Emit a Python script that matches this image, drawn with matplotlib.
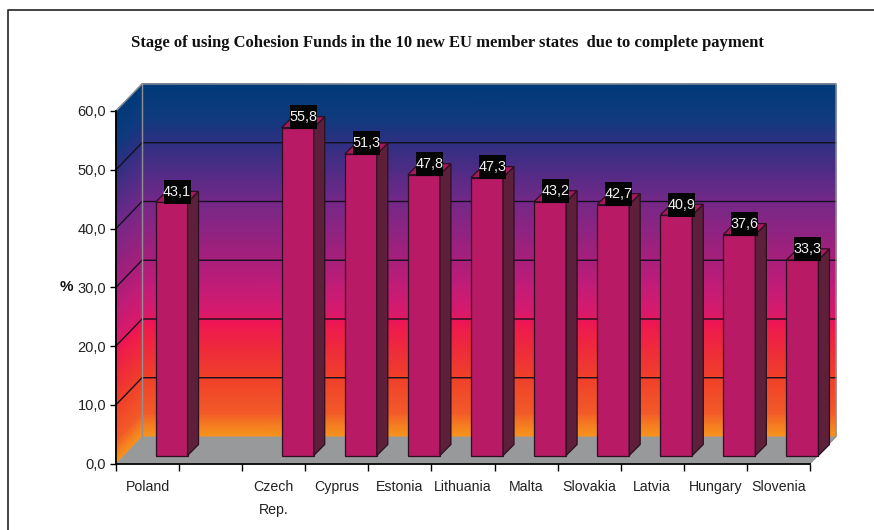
import numpy as np
import matplotlib
matplotlib.use("Agg")
import matplotlib.pyplot as plt
from matplotlib.colors import LinearSegmentedColormap

categories = ["Poland", "", "Czech\nRep.", "Cyprus", "Estonia", "Lithuania", "Malta", "Slovakia", "Latvia", "Hungary", "Slovenia"]
values = [43.1, None, 55.8, 51.3, 47.8, 47.3, 43.2, 42.7, 40.9, 37.6, 33.3]
labels = ["43,1", "", "55,8", "51,3", "47,8", "47,3", "43,2", "42,7", "40,9", "37,6", "33,3"]
yticks = [0, 10, 20, 30, 40, 50, 60]
ytick_labels = ["0,0", "10,0", "20,0", "30,0", "40,0", "50,0", "60,0"]
title = "Stage of using Cohesion Funds in the 10 new EU member states  due to complete payment"

W, H = 874, 530
left, right, y0_px, y60_px = 116, 810, 463.5, 111

# px -> data scale, the chart is a fake 3D box
sx = (right - left) / len(categories)
sy = (y0_px - y60_px) / 60
wall_dx, wall_dy = 26 / sx, 27 / sy
bar_dx, bar_dy = 8 / sx, 8 / sy
side_dx, side_dy = 11 / sx, 11 / sy
bar_w = 32 / sx
box_w, box_h = 27 / sx, 24 / sy

font = "Liberation Sans"

fig = plt.figure(figsize=(W / 100, H / 100), dpi=100, facecolor="white")
ax = fig.add_axes([left / W, 1 - y0_px / H, (right - left) / W, (y0_px - y60_px) / H])
ax.set_xlim(0, len(categories))
ax.set_ylim(0, 60)
ax.patch.set_visible(False)

stops = [(0, "#f7941d"), (1.5 / 60, "#f58320"), (4 / 60, "#f25a28"), (10 / 60, "#f0402a"),
         (15 / 60, "#ee2a3c"), (19.5 / 60, "#ee1654"), (21 / 60, "#d81a6c"), (26 / 60, "#c01c78"),
         (30 / 60, "#a81f7a"), (40 / 60, "#752888"), (50 / 60, "#2f3082"), (54.5 / 60, "#0f3a7e"),
         (1, "#003a78")]
cmap = LinearSegmentedColormap.from_list("wall", stops)
levels = np.linspace(0, 60, 241)
c = np.column_stack([levels, levels])

# back wall
X = np.tile([wall_dx, len(categories) + wall_dx], (len(levels), 1))
Y = np.column_stack([levels + wall_dy, levels + wall_dy])
ax.pcolormesh(X, Y, c, cmap=cmap, vmin=0, vmax=60, shading="gouraud", clip_on=False, zorder=1)
# left wall
X = np.tile([0, wall_dx], (len(levels), 1))
Y = np.column_stack([levels, levels + wall_dy])
ax.pcolormesh(X, Y, c, cmap=cmap, vmin=0, vmax=60, shading="gouraud", clip_on=False, zorder=1)

# floor
n = len(categories)
ax.fill([0, wall_dx, n + wall_dx, n], [0, wall_dy, wall_dy, 0], color="#98999b", lw=0, clip_on=False, zorder=2)

# grid lines
for v in yticks[1:-1]:
    ax.plot([0, wall_dx, n + wall_dx], [v, v + wall_dy, v + wall_dy], color="#14101e", lw=1, clip_on=False, zorder=3)

# wall borders
ax.plot([wall_dx, wall_dx], [wall_dy, 60 + wall_dy], color="#8f9194", lw=1, clip_on=False, zorder=3)
ax.plot([0, wall_dx, n + wall_dx, n + wall_dx, n], [60, 60 + wall_dy, 60 + wall_dy, wall_dy, 0],
        color="#8f9194", lw=1, clip_on=False, zorder=3)

# bars
for i, v in enumerate(values):
    if v is None:
        continue
    x = i + 0.5 + bar_dx
    ax.bar(x, v, bar_w, bottom=bar_dy, align="edge", color="#b81a65", edgecolor="#2a1020", lw=0.9, clip_on=False, zorder=4)
    top = v + bar_dy
    ax.fill([x + bar_w, x + bar_w + side_dx, x + bar_w + side_dx, x + bar_w],
            [bar_dy, bar_dy + side_dy, top + side_dy, top],
            facecolor="#5d1f3a", edgecolor="#2a1020", lw=0.9, clip_on=False, zorder=4)
    ax.fill([x, x + side_dx, x + bar_w + side_dx, x + bar_w],
            [top, top + side_dy, top + side_dy, top],
            facecolor="#a8185c", edgecolor="#2a1020", lw=0.9, clip_on=False, zorder=4)
    cx, cy = x + 21.5 / sx, top + 10.7 / sy
    ax.fill([cx - box_w / 2, cx + box_w / 2, cx + box_w / 2, cx - box_w / 2],
            [cy - box_h / 2, cy - box_h / 2, cy + box_h / 2, cy + box_h / 2],
            color="#050505", lw=0, clip_on=False, zorder=5)
    ax.text(cx, cy, labels[i], color="#f0f0f0", ha="center", va="center", family=font, fontsize=10.4, zorder=6)

# axes
for s in ["top", "right"]:
    ax.spines[s].set_visible(False)
for s in ["left", "bottom"]:
    ax.spines[s].set_linewidth(1.3)
    ax.spines[s].set_zorder(5)
ax.set_yticks(yticks)
ax.set_yticklabels(ytick_labels, family=font, fontsize=10.5, color="#222222")
ax.tick_params(axis="y", length=4, width=1, pad=3)
ax.set_xticks(np.arange(n + 1))
ax.set_xticklabels([])
ax.tick_params(axis="x", which="major", length=5, width=1)
ax.set_xticks(np.arange(n) + 0.5, minor=True)
ax.set_xticklabels(categories, minor=True, family=font, fontsize=10.2, color="#222222", va="top", linespacing=1.8)
ax.tick_params(axis="x", which="minor", length=0, pad=12)

fig.text(66 / W, 1 - 287 / H, "%", family=font, weight="bold", fontsize=11, ha="center", va="center", color="#111111")
fig.text(447 / W, 1 - 43 / H, title, family="Liberation Serif", weight="bold", fontsize=12, ha="center", va="center", color="#111111")

# page frame
fig.add_artist(plt.Line2D([8 / W, 8 / W, 1], [0, 1 - 10 / H, 1 - 10 / H], color="#222222", lw=1.2))

fig.savefig("out.png", dpi=100)
